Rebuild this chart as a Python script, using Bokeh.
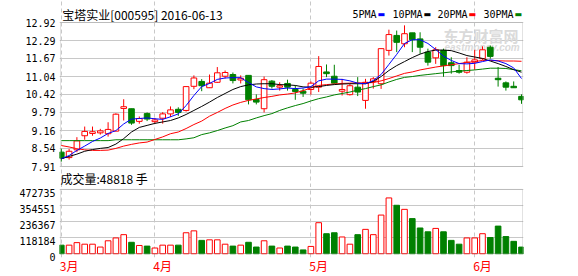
from bokeh.plotting import figure
from bokeh.layouts import column
from bokeh.models import Range1d, FixedTicker, Label, PrintfTickFormatter, ColumnDataSource, BoxAnnotation
from bokeh.embed import file_html
from bokeh.resources import INLINE

# ---------------- data ----------------
title_text = "宝塔实业[000595] 2016-06-13"
volume_text = "成交量:48818 手"
ma_names = ["5PMA", "10PMA", "20PMA", "30PMA"]
month_labels = ["3月", "4月", "5月", "6月"]
month_start = [0, 12, 32, 53]
price_ticks = [7.91, 8.54, 9.16, 9.79, 10.42, 11.04, 11.67, 12.29, 12.92]
volume_ticks = [0, 118184, 236367, 354551, 472735]

opens = [8.41, 8.22, 8.49, 8.98, 9.06, 9.08, 9.05, 9.14, 9.93, 9.92, 9.48, 9.75, 9.47, 9.59, 9.74,
         9.90, 9.86, 10.70, 10.87, 10.65, 10.84, 11.05, 11.11, 10.92, 11.08, 10.24, 9.92, 10.88, 10.67, 10.80,
         10.59, 10.53, 10.59, 10.67, 11.20, 11.05, 10.53, 10.41, 10.67, 10.21, 10.87, 10.79, 11.95, 12.47, 12.18,
         12.56, 12.35, 11.89, 11.69, 11.95, 11.52, 11.25, 11.19, 11.54, 11.66, 12.06, 10.98, 10.82, 10.70, 10.35]
highs = [8.53, 8.52, 8.93, 9.30, 9.30, 9.22, 9.45, 9.76, 10.25, 9.92, 9.65, 9.79, 9.60, 9.80, 10.00,
         9.97, 10.70, 11.08, 10.95, 11.11, 11.37, 11.25, 11.18, 11.08, 11.08, 10.42, 11.04, 10.92, 10.84, 10.93,
         10.73, 10.62, 10.87, 11.75, 11.46, 11.45, 10.96, 10.78, 11.02, 10.96, 11.02, 12.01, 12.67, 12.64, 12.82,
         12.56, 12.58, 12.01, 12.06, 12.01, 11.71, 11.45, 11.71, 11.97, 12.09, 12.12, 11.37, 10.87, 10.87, 10.42]
lows = [8.08, 8.15, 8.41, 8.84, 8.98, 9.02, 8.95, 9.14, 9.51, 9.36, 9.40, 9.49, 9.40, 9.40, 9.63,
        9.67, 9.82, 10.60, 10.53, 10.64, 10.82, 10.97, 10.80, 10.80, 10.07, 10.07, 9.79, 10.62, 10.55, 10.55,
        10.23, 10.33, 10.41, 10.50, 11.02, 10.79, 10.38, 10.38, 10.36, 9.92, 10.62, 10.61, 11.77, 11.89, 12.06,
        11.89, 11.83, 11.42, 11.48, 11.03, 11.14, 11.14, 11.14, 11.27, 11.62, 11.66, 10.69, 10.55, 10.65, 10.09]
closes = [8.20, 8.44, 8.80, 9.13, 9.12, 9.15, 9.20, 9.73, 9.99, 9.42, 9.58, 9.56, 9.53, 9.74, 9.88,
          9.79, 10.69, 10.99, 10.72, 10.81, 11.17, 11.18, 10.90, 10.98, 10.23, 10.15, 10.93, 10.70, 10.72, 10.67,
          10.52, 10.46, 10.81, 11.39, 11.14, 10.81, 10.59, 10.72, 10.50, 10.84, 10.96, 12.01, 12.50, 12.23, 12.53,
          12.32, 12.06, 11.54, 11.97, 11.42, 11.42, 11.19, 11.54, 11.62, 11.97, 11.74, 10.93, 10.67, 10.65, 10.23]
volumes = [62900, 63000, 81500, 70000, 70000, 49000, 95000, 116000, 140000, 84000, 60500, 56000, 42000, 63000, 63000,
           63000, 154000, 168000, 98000, 102000, 102000, 70000, 56000, 63000, 84000, 49000, 95000, 56000, 42000, 56000,
           49000, 28000, 53600, 228000, 147000, 154000, 123000, 70000, 140000, 179000, 140000, 284000, 410000, 356000, 326000,
           258000, 189000, 161000, 186000, 161000, 98000, 70000, 116000, 116000, 147000, 119000, 203000, 126000, 91000, 48818]

ma5 = [8.18, 8.29, 8.47, 8.62, 8.78, 8.90, 9.06, 9.16, 9.39, 9.56, 9.58, 9.60, 9.57, 9.55, 9.64,
       9.74, 10.03, 10.38, 10.69, 10.80, 10.94, 10.99, 11.00, 11.00, 10.83, 10.68, 10.62, 10.59, 10.61, 10.64,
       10.62, 10.64, 10.69, 10.89, 10.95, 10.95, 10.94, 10.89, 10.81, 10.79, 10.90, 11.11, 11.46, 11.81, 12.19,
       12.32, 12.32, 12.19, 11.98, 11.75, 11.60, 11.49, 11.48, 11.50, 11.56, 11.62, 11.58, 11.49, 11.34, 10.97]
ma10 = [8.18, 8.26, 8.34, 8.44, 8.50, 8.54, 8.57, 8.69, 8.88, 9.11, 9.27, 9.34, 9.41, 9.46, 9.51,
        9.60, 9.72, 9.86, 10.00, 10.15, 10.31, 10.45, 10.59, 10.69, 10.75, 10.78, 10.79, 10.79, 10.76, 10.75,
        10.73, 10.68, 10.67, 10.69, 10.73, 10.76, 10.78, 10.79, 10.79, 10.79, 10.87, 11.04, 11.25, 11.42, 11.56,
        11.70, 11.82, 11.91, 11.96, 11.96, 11.94, 11.86, 11.77, 11.72, 11.67, 11.58, 11.49, 11.39, 11.28, 11.19]
ma20 = [8.64, 8.59, 8.53, 8.49, 8.47, 8.47, 8.48, 8.54, 8.62, 8.68, 8.73, 8.76, 8.85, 8.94, 9.05,
        9.11, 9.23, 9.37, 9.49, 9.66, 9.79, 9.93, 10.05, 10.14, 10.21, 10.26, 10.31, 10.35, 10.40, 10.43,
        10.47, 10.55, 10.64, 10.73, 10.76, 10.78, 10.80, 10.81, 10.82, 10.82, 10.83, 10.89, 10.97, 11.06, 11.15,
        11.20, 11.27, 11.32, 11.37, 11.41, 11.45, 11.49, 11.53, 11.56, 11.60, 11.60, 11.59, 11.58, 11.58, 11.57]
ma30 = [8.81, 8.81, 8.81, 8.81, 8.81, 8.81, 8.81, 8.84, 8.84, 8.84, 8.84, 8.84, 8.84, 8.84, 8.84,
        8.84, 8.87, 8.91, 9.02, 9.08, 9.16, 9.25, 9.33, 9.46, 9.51, 9.60, 9.68, 9.75, 9.86, 9.95,
        10.03, 10.10, 10.19, 10.27, 10.33, 10.40, 10.45, 10.50, 10.57, 10.62, 10.69, 10.75, 10.85, 10.94, 11.01,
        11.04, 11.08, 11.11, 11.14, 11.17, 11.20, 11.23, 11.25, 11.27, 11.30, 11.33, 11.33, 11.32, 11.28, 11.24]

# ---------------- styling / layout constants ----------------
RED = "#ff0000"
GREEN = "#008000"
MA_COLORS = ["#0000ff", "#000000", "#ff0000", "#008000"]
GRID = "#c8c8c8"
BORDER = "#a0a0a0"
CJK = "Noto Sans CJK SC"
MONO = "DejaVu Sans Mono"

BAR_PX = 7.8          # pixels per trading day
FIRST_BAR_PX = 60.8   # canvas x of the first bar
FRAME_L, FRAME_R = 59, 523
BOX_L, BOX_R = 60, 522
SPLIT = 187           # canvas y where the volume figure starts
VOL_FRAME_BOTTOM = 261

n = len(closes)
idx = list(range(n))
up = [c >= o for o, c in zip(opens, closes)]
src = ColumnDataSource(dict(
    x=idx, h=highs, l=lows,
    top=[max(o, c) for o, c in zip(opens, closes)],
    bot=[min(o, c) for o, c in zip(opens, closes)],
    vol=volumes,
    col=[RED if u else GREEN for u in up],
    fill=["#ffffff" if u else GREEN for u in up],
))


def px_to_x(px):
    return (px - FIRST_BAR_PX) / BAR_PX


x_range = Range1d(px_to_x(FRAME_L), px_to_x(FRAME_R))
box_left, box_right = px_to_x(BOX_L), px_to_x(BOX_R)


def style_common(fig, lo, hi):
    fig.outline_line_color = None
    fig.background_fill_color = "#ffffff"
    fig.border_fill_color = "#ffffff"
    fig.ygrid.grid_line_color = GRID
    fig.ygrid.bounds = (box_left, box_right)
    fig.xgrid.ticker = FixedTicker(ticks=month_start)
    fig.xgrid.grid_line_color = GRID
    fig.xgrid.grid_line_dash = "4 3"
    fig.xgrid.bounds = (lo, hi)
    ax = fig.yaxis[0]
    ax.axis_line_color = None
    ax.major_tick_line_color = None
    ax.minor_tick_line_color = None
    ax.major_tick_out = 0
    ax.major_tick_in = 0
    ax.major_label_standoff = 4
    ax.major_label_text_font = MONO
    ax.major_label_text_font_size = "10px"
    ax.major_label_text_color = "#000000"
    fig.add_layout(BoxAnnotation(left=box_left, right=box_right, bottom=lo, top=hi,
                                 fill_color=None, fill_alpha=0, line_color=BORDER, line_width=1))


# ---------------- price panel (canvas y 0..SPLIT, box y 22..166) ----------------
pp = 144 / (price_ticks[-1] - price_ticks[0])   # px per price unit
p = figure(width=578, height=SPLIT, x_range=x_range,
           y_range=Range1d(price_ticks[0] - (SPLIT - 166) / pp, price_ticks[-1] + 22 / pp),
           output_backend="svg", toolbar_location=None, x_axis_location=None, title=None,
           min_border_left=FRAME_L, min_border_right=578 - FRAME_R, min_border_top=0, min_border_bottom=0)
style_common(p, price_ticks[0], price_ticks[-1])
p.yaxis.ticker = FixedTicker(ticks=price_ticks)
p.yaxis.formatter = PrintfTickFormatter(format="%.2f")

# watermark
p.add_layout(Label(x=384, y=SPLIT - 35, x_units="screen", y_units="screen", text="东方财富网", text_font=CJK,
                   text_font_size="15px", text_font_style="bold", text_color="#dadada",
                   text_baseline="middle", level="underlay"))
p.add_layout(Label(x=385, y=SPLIT - 47, x_units="screen", y_units="screen", text="eastmoney.com",
                   text_font="Liberation Sans", text_font_size="10px", text_font_style="bold italic",
                   text_color="#dadada", text_baseline="middle", level="underlay"))

p.segment(x0="x", y0="l", x1="x", y1="h", color="col", line_width=1, source=src)
p.vbar(x="x", top="top", bottom="bot", width=0.72, fill_color="fill", line_color="col", line_width=1, source=src)

for series, colr in zip([ma30, ma20, ma10, ma5], MA_COLORS[::-1]):
    p.line(idx, series, line_color=colr, line_width=1)

# title and legend
head_y = SPLIT - 14
p.add_layout(Label(x=2.7, y=head_y, x_units="screen", y_units="screen", text=title_text, text_font=CJK,
                   text_font_size="12px", text_color="#000000", text_baseline="middle"))
legend_x = [293, 333, 378, 424]
for name, colr, lx in zip(ma_names, MA_COLORS, legend_x):
    p.add_layout(Label(x=lx, y=head_y, x_units="screen", y_units="screen", text=name, text_font=MONO,
                       text_font_size="10px", text_color="#000000", text_baseline="middle"))
    p.add_layout(Label(x=lx + 6 * len(name) + 1, y=head_y, x_units="screen", y_units="screen", text="▬",
                       text_font="DejaVu Sans", text_font_size="8px", text_color=colr,
                       text_baseline="middle"))

# volume caption (below the price box, still inside this figure's frame)
p.add_layout(Label(x=1, y=SPLIT - 177.5, x_units="screen", y_units="screen", text=volume_text, text_font=CJK,
                   text_font_size="12px", text_color="#000000", text_baseline="middle"))

# ---------------- volume panel (canvas y SPLIT..276, box y 189..257) ----------------
vp = 68 / volume_ticks[-1]   # px per volume unit
v = figure(width=578, height=276 - SPLIT, x_range=x_range,
           y_range=Range1d(volume_ticks[0] - (VOL_FRAME_BOTTOM - 257) / vp,
                           volume_ticks[-1] + (189 - SPLIT) / vp),
           output_backend="svg", toolbar_location=None, title=None,
           min_border_left=FRAME_L, min_border_right=578 - FRAME_R, min_border_top=0,
           min_border_bottom=276 - VOL_FRAME_BOTTOM)
style_common(v, volume_ticks[0], volume_ticks[-1])
# the reference prints the volume labels a few pixels below their grid lines
label_shift = round(3.5 / vp)
vol_label_pos = [t - label_shift for t in volume_ticks]
v.ygrid.ticker = FixedTicker(ticks=volume_ticks)
v.yaxis.ticker = FixedTicker(ticks=vol_label_pos)
v.yaxis.major_label_overrides = {pos: str(t) for pos, t in zip(vol_label_pos, volume_ticks)}

month_label_pos = [m + 1 for m in month_start]
xa = v.xaxis[0]
xa.ticker = FixedTicker(ticks=month_label_pos)
xa.major_label_overrides = {pos: lab for pos, lab in zip(month_label_pos, month_labels)}
xa.axis_line_color = None
xa.major_tick_line_color = None
xa.minor_tick_line_color = None
xa.major_tick_out = 0
xa.major_tick_in = 0
xa.major_label_standoff = -1
xa.major_label_text_font = CJK
xa.major_label_text_font_size = "12px"
xa.major_label_text_color = RED

v.vbar(x="x", top="vol", bottom=0, width=0.72, fill_color="fill", line_color="col", line_width=1, source=src)

layout = column(p, v, spacing=0)
open("out.html", "w").write(file_html(layout, INLINE))
